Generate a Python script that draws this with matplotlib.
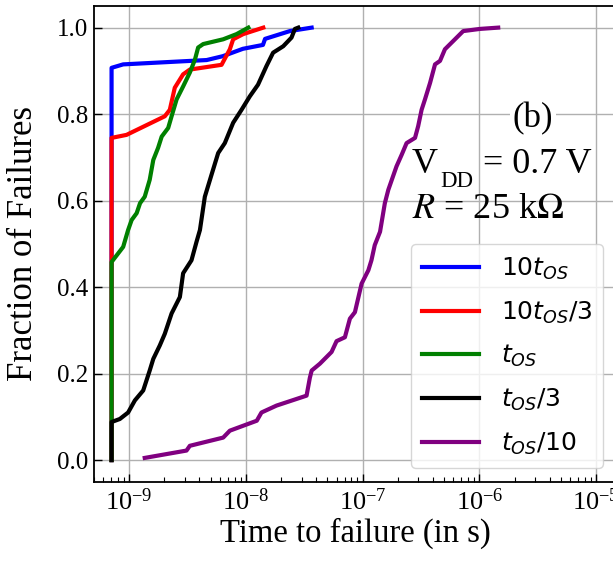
import matplotlib

matplotlib.use("Agg")
import matplotlib.pyplot as plt
from matplotlib.font_manager import FontProperties

plt.rcParams["font.family"] = ["Liberation Serif", "DejaVu Serif"]
plt.rcParams["mathtext.fontset"] = "stix"

# time to failure (s) and cumulative fraction
t_10tos = [7.07e-10, 7.07e-10, 8.89e-10, 4.61e-9, 6.35e-9, 9.42e-9, 1.40e-8, 1.46e-8, 2.38e-8, 3.66e-8]
f_10tos = [0.0, 0.907, 0.915, 0.925, 0.934, 0.951, 0.960, 0.974, 0.992, 1.0]

t_10tos3 = [7.07e-10, 7.07e-10, 9.5e-10, 2.02e-9, 2.23e-9, 2.46e-9, 2.90e-9, 3.31e-9, 6.19e-9,
            7.29e-9, 7.78e-9, 9.48e-9, 1.41e-8]
f_10tos3 = [0.0, 0.745, 0.752, 0.795, 0.810, 0.861, 0.892, 0.903, 0.914,
            0.950, 0.973, 0.985, 1.0]

t_tos = [7.07e-10, 7.07e-10, 8.89e-10, 9.8e-10, 1.05e-9, 1.16e-9, 1.24e-9, 1.36e-9, 1.50e-9,
         1.61e-9, 1.77e-9, 1.90e-9, 2.16e-9, 2.31e-9, 2.55e-9, 2.90e-9, 3.31e-9, 3.66e-9,
         3.90e-9, 4.31e-9, 6.39e-9, 8.32e-9, 1.05e-8]
f_tos = [0.0, 0.458, 0.493, 0.532, 0.555, 0.571, 0.594, 0.609, 0.648,
         0.694, 0.722, 0.748, 0.768, 0.795, 0.834, 0.864, 0.896, 0.926,
         0.954, 0.962, 0.973, 0.985, 1.0]

t_tos3 = [7.07e-10, 7.07e-10, 8.32e-10, 9.8e-10, 1.12e-9, 1.32e-9, 1.50e-9, 1.61e-9, 1.83e-9,
          2.02e-9, 2.31e-9, 2.72e-9, 2.90e-9, 3.42e-9, 3.78e-9, 4.04e-9, 4.45e-9, 5.08e-9,
          5.79e-9, 6.60e-9, 7.78e-9, 9.18e-9, 1.08e-8, 1.27e-8, 1.50e-8, 1.71e-8, 2.09e-8,
          2.46e-8, 2.63e-8, 2.81e-8]
f_tos3 = [0.0, 0.088, 0.095, 0.110, 0.138, 0.161, 0.207, 0.234, 0.265,
          0.292, 0.339, 0.377, 0.432, 0.462, 0.505, 0.532, 0.609, 0.660,
          0.710, 0.733, 0.780, 0.810, 0.841, 0.868, 0.911, 0.942, 0.957,
          0.977, 0.997, 1.0]

t_tos10 = [1.36e-9, 3.10e-9, 3.31e-9, 6.39e-9, 7.29e-9, 1.24e-8, 1.36e-8, 1.83e-8, 3.31e-8,
           3.53e-8, 3.66e-8, 4.31e-8, 5.42e-8, 5.98e-8, 7.05e-8, 7.78e-8, 8.59e-8, 9.80e-8,
           1.12e-7, 1.19e-7, 1.27e-7, 1.41e-7, 1.55e-7, 1.66e-7, 1.95e-7, 2.16e-7, 2.38e-7,
           2.81e-7, 2.99e-7, 3.20e-7, 3.42e-7, 3.78e-7, 4.17e-7, 4.60e-7, 5.07e-7, 5.97e-7,
           7.27e-7, 1.01e-6, 1.45e-6]
f_tos10 = [0.005, 0.022, 0.033, 0.052, 0.068, 0.091, 0.110, 0.126, 0.149,
           0.190, 0.207, 0.223, 0.250, 0.275, 0.284, 0.327, 0.342, 0.408,
           0.439, 0.462, 0.497, 0.528, 0.594, 0.625, 0.679, 0.706, 0.733,
           0.745, 0.772, 0.810, 0.834, 0.872, 0.915, 0.923, 0.950, 0.969,
           0.992, 0.997, 1.0]

x_ticks = [1e-9, 1e-8, 1e-7, 1e-6, 1e-5]
y_ticks = [0.0, 0.2, 0.4, 0.6, 0.8, 1.0]

series = [
    (t_10tos, f_10tos, "blue", r"10$t_{OS}$"),
    (t_10tos3, f_10tos3, "red", r"10$t_{OS}$/3"),
    (t_tos, f_tos, "green", r"$t_{OS}$"),
    (t_tos3, f_tos3, "black", r"$t_{OS}$/3"),
    (t_tos10, f_tos10, "purple", r"$t_{OS}$/10"),
]

fig = plt.figure(figsize=(6.13, 5.63), dpi=100)
# axes run a little past the right edge of the picture, as in the source crop
ax = fig.add_axes([94 / 613, 81.3 / 563, 523 / 613, 475.7 / 563])

for t, f, color, label in series:
    ax.plot(t, f, color=color, lw=3, label=label)

ax.set_xscale("log")
ax.set_xlim(5.0e-10, 1.51e-5)
ax.set_ylim(-0.05, 1.05)
ax.set_xticks(x_ticks)
ax.set_yticks(y_ticks)
ax.grid(True, which="major", color="#b0b0b0", lw=1)
ax.tick_params(which="major", direction="in", length=5.5, width=1, pad=4.5)
ax.tick_params(which="minor", direction="in", length=3.5, width=0.8)
ax.tick_params(axis="x", labelsize=19, pad=4.5)
ax.tick_params(axis="y", labelsize=18)
for sp in ax.spines.values():
    sp.set_linewidth(1.3)
    sp.set_color("black")

ax.set_xlabel("Time to failure (in s)", fontsize=23.5, labelpad=2)
ax.set_ylabel("Fraction of Failures", fontsize=25)
ax.yaxis.set_label_coords(-0.104, 0.5)

leg_font = FontProperties(family="DejaVu Sans", size=18, math_fontfamily="dejavusans")
ax.legend(loc="lower right", prop=leg_font, handlelength=2.3, handletextpad=0.85,
          labelspacing=0.7, borderpad=0.45, borderaxespad=0.55)

ax.text(0.801, 0.7457, "(b)", transform=ax.transAxes, fontsize=25, va="baseline",
        bbox=dict(facecolor="white", edgecolor="none", pad=2))
ax.text(0.608, 0.6496, "V", transform=ax.transAxes, fontsize=26, va="baseline")
ax.text(0.6616, 0.620, "DD", transform=ax.transAxes, fontsize=16.5, va="baseline")
ax.text(0.7438, 0.6496, "= 0.7 V", transform=ax.transAxes, fontsize=26, va="baseline")
ax.text(0.608, 0.555, r"$R$ = 25 k$\Omega$", transform=ax.transAxes,
        fontsize=26, va="baseline")

fig.savefig("out.png", dpi=100)
